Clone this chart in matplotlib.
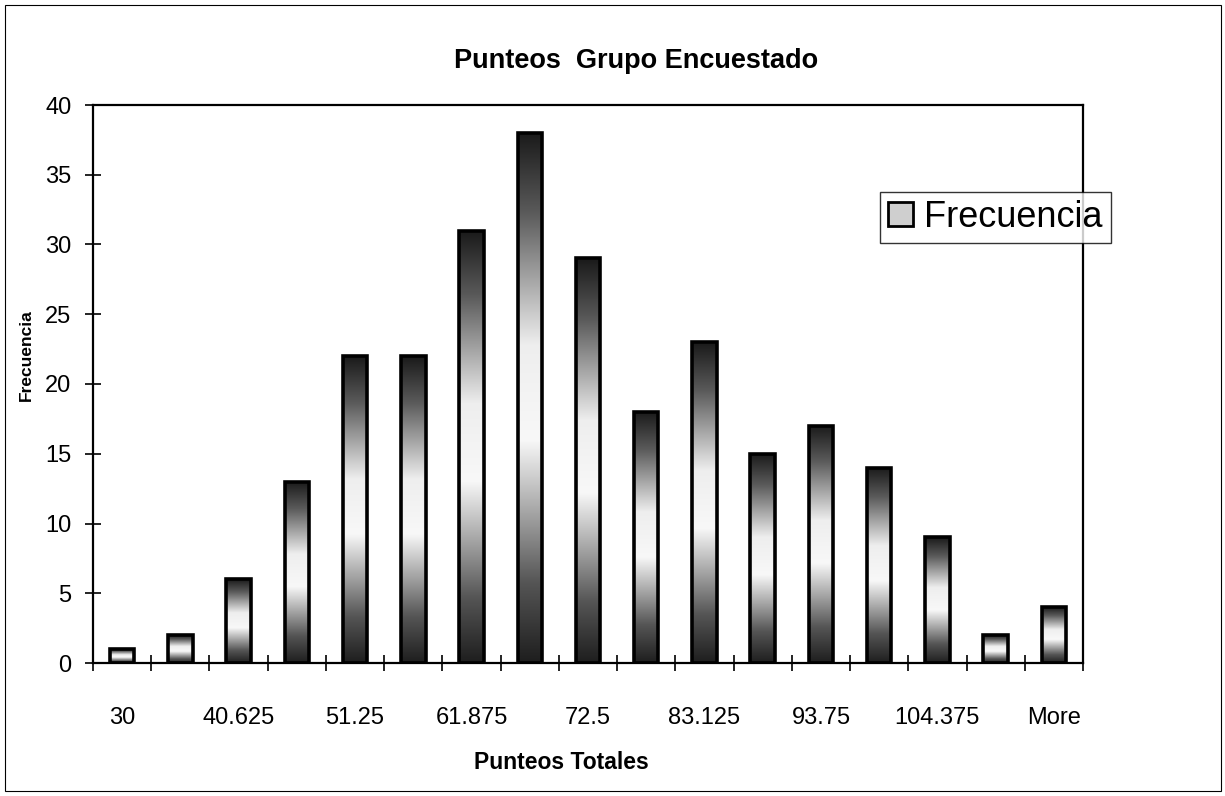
###########################################
## Histograma: Punteos Grupo Encuestado
###########################################

import numpy as np
import matplotlib.pyplot as plt
from matplotlib.colors import LinearSegmentedColormap
from matplotlib.patches import Patch, Rectangle

plt.rcParams['font.family'] = ['Liberation Sans', 'DejaVu Sans']

# Données
clases = ['30', '35.3125', '40.625', '45.9375', '51.25', '56.5625', '61.875',
          '67.1875', '72.5', '77.8125', '83.125', '88.4375', '93.75',
          '99.0625', '104.375', '109.6875', 'More']
frecuencia = [1, 2, 6, 13, 22, 22, 31, 38, 29, 18, 23, 15, 17, 14, 9, 2, 4]
yticks = [0, 5, 10, 15, 20, 25, 30, 35, 40]

x = np.arange(len(clases))
ancho = 0.42

# Dégradé vertical sombre - clair - sombre
cmap = LinearSegmentedColormap.from_list(
    'excel', [(0.0, '#1e1e1e'), (0.15, '#555555'), (0.42, '#f8f8f8'),
              (0.6, '#eeeeee'), (0.85, '#5a5a5a'), (1.0, '#1a1a1a')])
grad = np.linspace(0, 1, 256).reshape(-1, 1)

fig = plt.figure(figsize=(12.25, 7.96), dpi=100)
ax = fig.add_axes([93 / 1225, 1 - 663 / 796, 990 / 1225, 558 / 796])

for xi, h in zip(x, frecuencia):
    ax.imshow(grad, extent=(xi - ancho / 2, xi + ancho / 2, 0, h), origin='lower',
              aspect='auto', cmap=cmap, zorder=2, interpolation='bilinear')
ax.bar(x, frecuencia, width=ancho, facecolor='none', edgecolor='black',
       linewidth=2.6, zorder=3)

ax.set_xlim(-0.5, len(clases) - 0.5)
ax.set_ylim(0, 40)

# Axe des x : graduations entre les classes, étiquettes une sur deux
ax.set_xticks(np.arange(-0.5, len(clases), 1.0))
ax.set_xticklabels([])
ax.set_xticks(x[::2], minor=True)
ax.set_xticklabels(clases[::2], minor=True, fontsize=17)
ax.tick_params(axis='x', which='major', direction='inout', length=11, width=1.2)
ax.tick_params(axis='x', which='minor', length=0, pad=32)

ax.set_yticks(yticks)
ax.set_yticklabels([str(v) for v in yticks], fontsize=17)
ax.tick_params(axis='y', direction='inout', length=11, width=1.2, pad=10)

for s in ax.spines.values():
    s.set_linewidth(1.6)

ax.set_xlabel('Punteos Totales', fontsize=16.5, fontweight='bold')
ax.xaxis.set_label_coords(0.473, -0.157)
ax.set_ylabel('Frecuencia', fontsize=12.5, fontweight='bold')
ax.yaxis.set_label_coords(-0.06, 0.552)

fig.text(636 / 1225, 1 - 61 / 796, 'Punteos  Grupo Encuestado', fontsize=19.5,
         fontweight='bold', ha='center', va='center')

# Légende
leg = fig.legend(handles=[Patch(facecolor='#cfcfcf', edgecolor='black',
                                linewidth=2.0, label='Frecuencia')],
                 loc='upper left', bbox_to_anchor=(880 / 1225, 1 - 192 / 796),
                 fontsize=26, frameon=True, fancybox=False, handlelength=0.7,
                 handleheight=0.65, handletextpad=0.3, borderpad=0.22,
                 borderaxespad=0)
leg.get_frame().set_edgecolor('black')
leg.get_frame().set_linewidth(1.0)

# Cadre du graphique
fig.patches.append(Rectangle((0.004, 0.006), 0.993, 0.988, transform=fig.transFigure,
                             fill=False, edgecolor='black', linewidth=0.8))

fig.savefig('out.png', dpi=100)
